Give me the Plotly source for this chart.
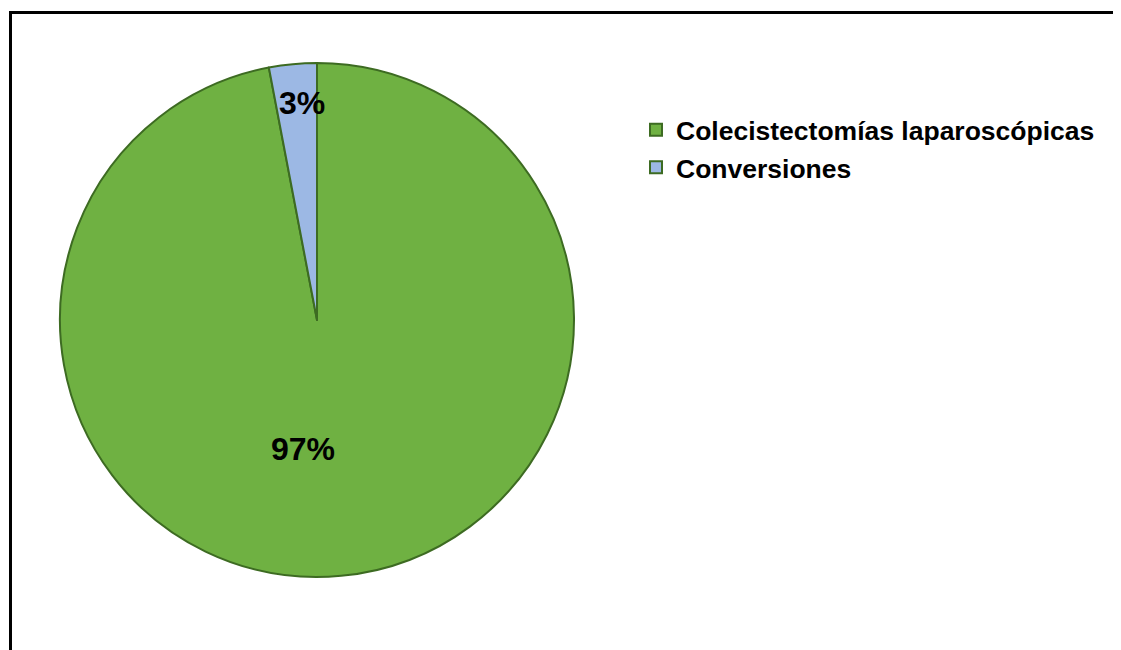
import plotly.graph_objects as go

labels = ["Colecistectomías laparoscópicas", "Conversiones"]
values = [97, 3]
colors = ["#6fb142", "#9cb8e4"]

# the page body adds an 8px margin, so the figure is sized to fit the window
W, H = 1113, 642
OFF = 8
total = sum(values)
pct = [f"{round(v / total * 100)}%" for v in values]


def px(x):
    return (x - OFF) / W


def py(y):
    return 1 - (y - OFF) / H


fig = go.Figure(go.Pie(
    labels=labels,
    values=values,
    sort=False,
    direction="clockwise",
    rotation=0,
    marker=dict(colors=colors, line=dict(color="#3d6b22", width=2)),
    textinfo="none",
    hoverinfo="label+percent",
    domain=dict(x=[px(60), px(574)], y=[py(577), py(63)]),
))

font_family = "'Liberation Sans', Arial, sans-serif"
# percentage labels (window pixel positions)
label_pos = [(303, 449), (302, 103)]
for p, (lx, ly) in zip(pct, label_pos):
    fig.add_annotation(text=f"<b>{p}</b>", x=px(lx), y=py(ly), xref="paper", yref="paper",
                       xanchor="center", yanchor="middle",
                       showarrow=False, font=dict(size=32, color="black", family=font_family))

fig.add_shape(type="rect", xref="paper", yref="paper",
              x0=px(10.5), x1=1.05, y0=-0.05, y1=py(12.5),
              line=dict(color="black", width=3))

fig.update_layout(
    width=W, height=H,
    margin=dict(l=0, r=0, t=0, b=0),
    paper_bgcolor="white", plot_bgcolor="white",
    showlegend=True,
    legend=dict(x=px(636), y=py(106), xanchor="left", yanchor="top",
                font=dict(size=26.5, color="black", family=font_family, weight="bold"),
                itemwidth=30, tracegroupgap=0, bgcolor="rgba(0,0,0,0)"),
)

fig.write_html("out.html")
